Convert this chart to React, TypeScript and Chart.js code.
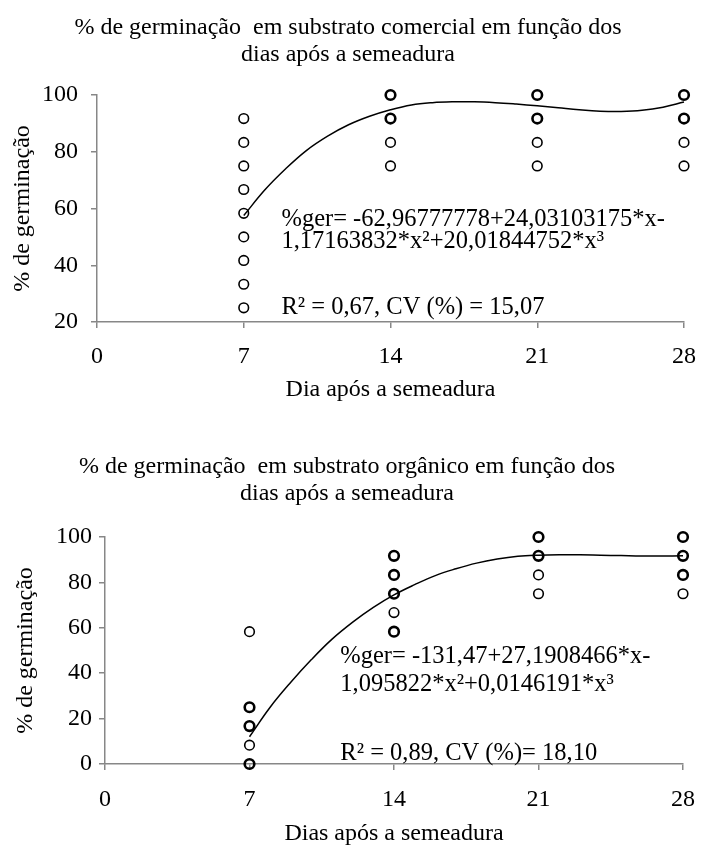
import React, { useEffect, useRef } from "react";
import { Chart, registerables } from "chart.js";

Chart.register(...registerables);

// ---------- data ----------
const xTickValues = [0, 7, 14, 21, 28];

// Commercial substrate: observed germination (%) per day (repeated values = overlapping observations)
const comObs7 = [91.7, 83.3, 75, 66.7, 58.3, 50, 41.7, 33.3, 25];
const comObs14 = [100, 100, 91.7, 91.7, 83.3, 75];
const comObs21 = [100, 100, 91.7, 91.7, 83.3, 75];
const comObs28 = [100, 100, 91.7, 91.7, 83.3, 75];

// Fitted curves
const fitDays = [7, 8, 9, 10, 11, 12, 13, 14, 15, 16, 17, 18, 19, 20, 21, 22, 23, 24, 25, 26, 27, 28];
const comFit = [57.5, 66.5, 74, 80.5, 85.5, 89.5, 92.5, 94.8, 96.5, 97.3, 97.6, 97.6, 97.3, 96.8, 96.2, 95.5, 94.8, 94.3, 94.2, 94.6, 95.7, 97.5];

// Organic substrate
const orgObs7 = [58.3, 25, 25, 16.7, 16.7, 8.3, 0, 0];
const orgObs14 = [91.7, 91.7, 83.3, 83.3, 75, 75, 66.7, 58.3, 58.3];
const orgObs21 = [100, 100, 91.7, 91.7, 83.3, 75];
const orgObs28 = [100, 100, 91.7, 91.7, 83.3, 83.3, 75];
const orgFit = [12, 25, 36, 46, 55, 62.5, 69, 74.5, 79, 83, 86, 88.5, 90.3, 91.5, 92, 92.2, 92.2, 92, 91.8, 91.6, 91.6, 91.7];

const comTitle = ["% de germinação  em substrato comercial em função dos", "dias após a semeadura"];
const orgTitle = ["% de germinação  em substrato orgânico em função dos", "dias após a semeadura"];
const yTitle = "% de germinação";
const comXTitle = "Dia após a semeadura";
const orgXTitle = "Dias após a semeadura";

const comNotes = [
  { x: 8.8, y: 56, text: "%ger= -62,96777778+24,03103175*x-" },
  { x: 8.8, y: 48.3, text: "1,17163832*x²+20,01844752*x³" },
  { x: 8.8, y: 25, text: "R² = 0,67, CV (%) = 15,07" },
];
const orgNotes = [
  { x: 11.4, y: 47.4, text: "%ger= -131,47+27,1908466*x-" },
  { x: 11.4, y: 35.2, text: "1,095822*x²+0,0146191*x³" },
  { x: 11.4, y: 4.8, text: "R² = 0,89, CV (%)= 18,10" },
];

// ---------- helpers ----------
const FONT = "'Liberation Serif', 'Times New Roman', serif";
const FS = 24;
const NOTE_FS = 24.5;
const AXIS_GREY = "#878787";

function buildPoints(groups: [number, number[]][]) {
  const pts: { x: number; y: number; n: number }[] = [];
  for (const [day, vals] of groups) {
    for (const v of vals) {
      const found = pts.find((p) => p.x === day && p.y === v);
      if (found) found.n += 1;
      else pts.push({ x: day, y: v, n: 1 });
    }
  }
  return pts;
}

const notesPlugin = {
  id: "notes",
  afterDatasetsDraw(chart: any, _args: any, opts: any) {
    const notes = opts && opts.items;
    if (!notes) return;
    const { ctx, scales } = chart;
    ctx.save();
    ctx.fillStyle = "#000";
    ctx.font = `${opts.size || FS}px ${FONT}`;
    ctx.textAlign = "left";
    ctx.textBaseline = "middle";
    for (const n of notes) {
      ctx.fillText(n.text, scales.x.getPixelForValue(n.x), scales.y.getPixelForValue(n.y));
    }
    ctx.restore();
  },
};

interface PanelCfg {
  top: number;
  height: number;
  groups: [number, number[]][];
  fit: number[];
  title: string[];
  xTitle: string;
  yMin: number;
  notes: { x: number; y: number; text: string }[];
  titlePadTop: number;
  titlePadBottom: number;
  yAxisWidth: number;
  xAxisHeight: number;
  padRight: number;
  yTickPad: number;
  xTickPad: number;
  xTitlePadBottom: number;
  yTitlePadTop: number;
}

function Panel(p: PanelCfg) {
  const ref = useRef<HTMLCanvasElement | null>(null);
  useEffect(() => {
    if (!ref.current) return;
    const pts = buildPoints(p.groups);
    const chart = new Chart(ref.current, {
      type: "scatter",
      data: {
        datasets: [
          {
            type: "line",
            data: fitDays.map((d, i) => ({ x: d, y: p.fit[i] })),
            borderColor: "#000",
            borderWidth: 1.5,
            pointRadius: 0,
            tension: 0.4,
            fill: false,
            clip: false,
            order: 2,
          } as any,
          {
            type: "scatter",
            data: pts.map((q) => ({ x: q.x, y: q.y })),
            pointStyle: "circle",
            pointRadius: 4.8,
            pointBorderColor: "#000",
            pointBackgroundColor: "rgba(0,0,0,0)",
            pointBorderWidth: pts.map((q) => (q.n > 1 ? 2.6 : 1.6)),
            clip: false,
            order: 1,
          } as any,
        ],
      },
      options: {
        animation: false,
        responsive: false,
        maintainAspectRatio: false,
        layout: { padding: { top: 0, right: p.padRight, bottom: 0, left: 0 } },
        plugins: {
          legend: { display: false },
          tooltip: { enabled: false },
          title: {
            display: true,
            text: p.title,
            color: "#000",
            font: { family: FONT, size: FS, weight: "normal", lineHeight: 27 / FS },
            padding: { top: p.titlePadTop, bottom: p.titlePadBottom },
          },
          notes: { items: p.notes, size: NOTE_FS },
        } as any,
        scales: {
          x: {
            type: "linear",
            min: 0,
            max: 28,
            afterBuildTicks: (s: any) => {
              s.ticks = xTickValues.map((v) => ({ value: v }));
            },
            afterFit: (s: any) => {
              s.height = p.xAxisHeight;
            },
            ticks: {
              color: "#000",
              font: { family: FONT, size: FS },
              padding: p.xTickPad,
            },
            grid: { display: true, drawOnChartArea: false, drawTicks: true, tickLength: 6, color: AXIS_GREY, lineWidth: 1.5 },
            border: { display: true, color: AXIS_GREY, width: 1.5 },
            title: {
              display: true,
              text: p.xTitle,
              color: "#000",
              font: { family: FONT, size: FS, lineHeight: 1.0 },
              padding: { top: 0, bottom: p.xTitlePadBottom },
            },
          },
          y: {
            type: "linear",
            min: p.yMin,
            max: 100,
            ticks: {
              stepSize: 20,
              color: "#000",
              font: { family: FONT, size: FS },
              padding: p.yTickPad,
            },
            afterFit: (s: any) => {
              s.width = p.yAxisWidth;
            },
            grid: { display: true, drawOnChartArea: false, drawTicks: true, tickLength: 6, color: AXIS_GREY, lineWidth: 1.5 },
            border: { display: true, color: AXIS_GREY, width: 1.5 },
            title: {
              display: true,
              text: yTitle,
              color: "#000",
              font: { family: FONT, size: FS, lineHeight: 1.2 },
              padding: { top: p.yTitlePadTop, bottom: 0 },
            },
          },
        },
      },
      plugins: [notesPlugin],
    });
    return () => chart.destroy();
  }, []);
  return (
    <canvas
      ref={ref}
      width={710}
      height={p.height}
      style={{ position: "absolute", left: 0, top: p.top, width: 710, height: p.height, display: "block" }}
    />
  );
}

export default function App() {
  return (
    <div style={{ position: "absolute", left: 0, top: 0, width: 710, height: 846, background: "#fff" }}>
      <Panel
        top={0}
        height={420}
        groups={[[7, comObs7], [14, comObs14], [21, comObs21], [28, comObs28]]}
        fit={comFit}
        title={comTitle}
        xTitle={comXTitle}
        yMin={20}
        notes={comNotes}
        titlePadTop={14}
        titlePadBottom={27}
        yAxisWidth={97}
        xAxisHeight={98}
        padRight={14}
        yTickPad={13}
        xTickPad={14}
        xTitlePadBottom={18}
        yTitlePadTop={8}
      />
      <Panel
        top={420}
        height={426}
        groups={[[7, orgObs7], [14, orgObs14], [21, orgObs21], [28, orgObs28]]}
        fit={orgFit}
        title={orgTitle}
        xTitle={orgXTitle}
        yMin={0}
        notes={orgNotes}
        titlePadTop={33}
        titlePadBottom={30}
        yAxisWidth={105}
        xAxisHeight={82}
        padRight={16}
        yTickPad={7}
        xTickPad={15}
        xTitlePadBottom={0}
        yTitlePadTop={11}
      />
    </div>
  );
}
